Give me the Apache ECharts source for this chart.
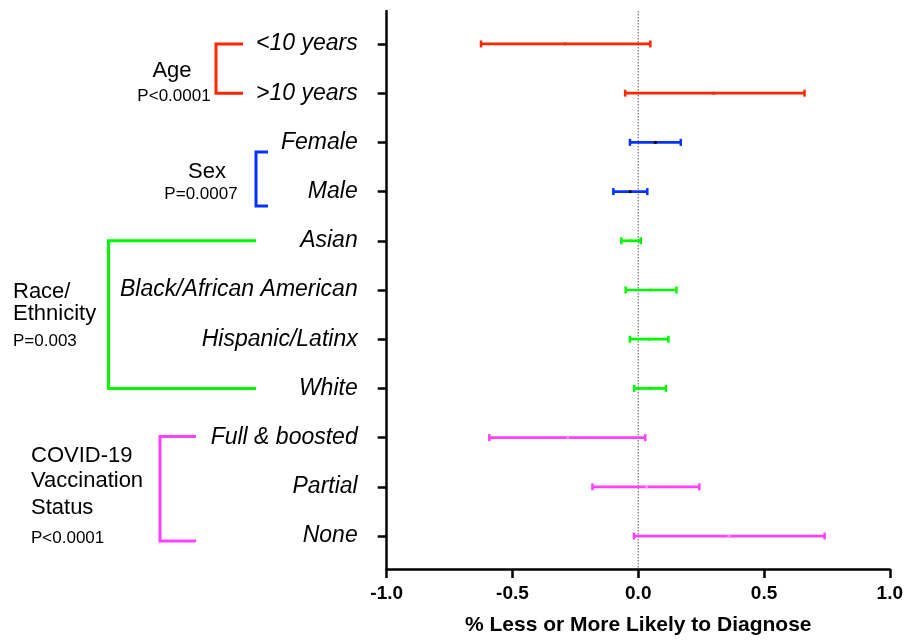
<!DOCTYPE html>
<html>
<head>
<meta charset="utf-8">
<script src="https://cdn.jsdelivr.net/npm/echarts@6/dist/echarts.min.js"></script>
<style>html,body{margin:0;padding:0;background:#fff}#c{width:906px;height:641px}</style>
</head>
<body>
<div id="c"></div>
<script>
const categories = ['<10 years','>10 years','Female','Male','Asian','Black/African American','Hispanic/Latinx','White','Full & boosted','Partial','None'];
const lower = [-0.625,-0.052,-0.033,-0.099,-0.067,-0.050,-0.033,-0.016,-0.592,-0.182,-0.017];
const upper = [0.048,0.661,0.169,0.036,0.010,0.152,0.120,0.110,0.028,0.243,0.741];
const means = [-0.29,0.30,0.068,-0.032,-0.029,0.051,0.044,0.047,-0.28,0.033,0.36];
const groupOf = [0,0,1,1,2,2,2,2,3,3,3];
const groupColors = ['#FF2600','#0433FF','#00F900','#FF40FF'];
const meanColors = ['#FF2600','#000000','#00F900','#FF8CFF'];
const xTicks = [-1,-0.5,0,0.5,1];
const refLine = [[0,-0.67],[0,10.67]];

const FONT = '"Liberation Sans", Arial, Helvetica, sans-serif';
const catIdx = categories.map((c,i)=>i);

const data = categories.map((c,i)=>[lower[i], upper[i], i, means[i], groupOf[i]]);

const chart = echarts.init(document.getElementById('c'), null, {renderer:'canvas'});

const option = {
  animation:false,
  backgroundColor:'#fff',
  grid:{left:386.7, right:14.5, top:11, bottom:69, containLabel:false},
  xAxis:{
    type:'value', min:-1, max:1, interval:0.5,
    axisLine:{show:true, onZero:false, lineStyle:{color:'#000', width:2.5}},
    axisTick:{show:true, length:9, lineStyle:{color:'#000', width:2.5}},
    axisLabel:{color:'#000', fontSize:19, fontWeight:'bold', fontFamily:FONT, margin:15,
      formatter:v=>v.toFixed(1), customValues:xTicks},
    splitLine:{show:false},
    name:'% Less or More Likely to Diagnose', nameLocation:'middle', nameGap:46,
    nameTextStyle:{color:'#000', fontSize:21, fontWeight:'bold', fontFamily:FONT}
  },
  yAxis:{
    type:'value', inverse:true, min:-0.67, max:10.67,
    axisLine:{show:true, onZero:false, lineStyle:{color:'#000', width:2.5}},
    axisTick:{show:true, length:9, lineStyle:{color:'#000', width:2.5}, customValues:catIdx},
    axisLabel:{show:true, color:'#000', fontSize:23, fontStyle:'italic', fontFamily:FONT, margin:29,
      padding:[10,0,0,0],
      customValues:catIdx, formatter:v=>categories[Math.round(v)]},
    splitLine:{show:false}
  },
  series:[
    {
      type:'line', data:refLine, symbol:'none', silent:true,
      lineStyle:{color:'#555', width:1, type:[1.5,1.5]}, z:1
    },
    {
      type:'custom', z:3,
      encode:{x:[0,1], y:2},
      data:data,
      renderItem:function(params, api){
        const lo = api.coord([api.value(0), api.value(2)]);
        const hi = api.coord([api.value(1), api.value(2)]);
        const mid = api.coord([api.value(3), api.value(2)]);
        const g = api.value(4);
        const col = groupColors[g];
        const h = 3.5;
        return {type:'group', children:[
          {type:'line', shape:{x1:lo[0], y1:lo[1], x2:hi[0], y2:hi[1]}, style:{stroke:col, lineWidth:2.7}},
          {type:'line', shape:{x1:lo[0], y1:lo[1]-h, x2:lo[0], y2:lo[1]+h}, style:{stroke:col, lineWidth:2.5}},
          {type:'line', shape:{x1:hi[0], y1:hi[1]-h, x2:hi[0], y2:hi[1]+h}, style:{stroke:col, lineWidth:2.5}},
          {type:'circle', shape:{cx:mid[0], cy:mid[1], r:1.6}, style:{fill:meanColors[g]}}
        ]};
      }
    }
  ]
};
chart.setOption(option);

// group annotations
const yPx = i => chart.convertToPixel({yAxisIndex:0}, i);
const bracket = (x, xArm, y1, y2, color) => ({
  type:'polyline', silent:true,
  shape:{points:[[xArm,y1],[x,y1],[x,y2],[xArm,y2]]},
  style:{stroke:color, lineWidth:3, fill:null}
});
const txt = (t, x, y, size, align) => ({
  type:'text', silent:true,
  style:{text:t, x:x, y:y+2.5, font: size+'px '+FONT, fill:'#000', textAlign:align||'center', textVerticalAlign:'middle', verticalAlign:'middle'}
});
const graphics = [
  bracket(216, 243, yPx(0), yPx(1), groupColors[0]),
  txt('Age', 172, yPx(0)+24, 22),
  txt('P<0.0001', 174, yPx(1)+1, 17),
  bracket(256, 268, yPx(2)+9.5, yPx(3)+14.5, groupColors[1]),
  txt('Sex', 207, yPx(2)+27, 22),
  txt('P=0.0007', 201, yPx(3)+0.5, 17),
  bracket(108.5, 256, yPx(4), yPx(7), groupColors[2]),
  txt('Race/', 13, yPx(5)-1, 22, 'left'),
  txt('Ethnicity', 13, yPx(5)+21, 22, 'left'),
  txt('P=0.003', 13, yPx(6)-0.5, 17, 'left'),
  bracket(160, 196, yPx(8)-1, yPx(10)+5, groupColors[3]),
  txt('COVID-19', 31, yPx(8)+16, 22, 'left'),
  txt('Vaccination', 31, yPx(9)-8, 22, 'left'),
  txt('Status', 31, yPx(9)+19, 22, 'left'),
  txt('P<0.0001', 31, yPx(10)-0.5, 17, 'left')
];
chart.setOption({graphic:{elements:graphics}});
</script>
</body>
</html>
